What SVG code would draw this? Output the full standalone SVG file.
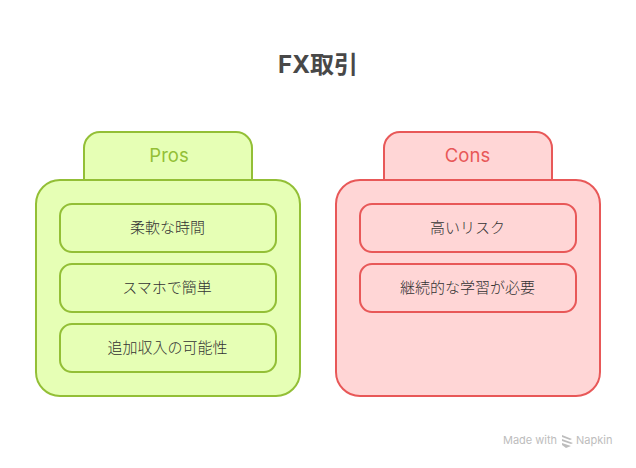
<svg xmlns="http://www.w3.org/2000/svg" width="636" height="468" viewBox="0 0 636 468">
<style>
text{text-anchor:middle;font-family:"Inter","Noto Sans CJK JP",sans-serif}
.g rect,.g path{fill:#e6ffb5;stroke:#93bf36;stroke-width:2}
.r rect,.r path{fill:#ffd6d6;stroke:#e85858;stroke-width:2}
.h{font-size:18.5px;font-weight:400}
.g .h{fill:#93bf36}.r .h{fill:#e85858}
.t{font-size:15px;fill:#333;font-weight:300}
.c{font-size:11px;text-anchor:start;font-weight:400;fill:#bdbdbd}
</style>
<rect width="636" height="468" fill="#fff"/>
<text id="title" x="318" y="73" font-size="24" font-weight="700" fill="#484848">FX取引</text>
<g id="connectors"/>
<g id="pros" class="g">
<path d="M84 180V148a16 16 0 0 1 16-16H236a16 16 0 0 1 16 16V180"/>
<rect x="36" y="180" width="264" height="216" rx="24"/>
<text class="h" x="169" y="162">Pros</text>
</g>
<g id="pros1" class="g"><rect x="60" y="204" width="216" height="48" rx="12"/><text class="t" x="167.500" y="233">柔軟な時間</text></g>
<g id="pros2" class="g"><rect x="60" y="264" width="216" height="48" rx="12"/><text class="t" x="167" y="293">スマホで簡単</text></g>
<g id="pros3" class="g"><rect x="60" y="324" width="216" height="48" rx="12"/><text class="t" x="167.500" y="353">追加収入の可能性</text></g>
<g id="cons" class="r">
<path d="M384 180V148a16 16 0 0 1 16-16H536a16 16 0 0 1 16 16V180"/>
<rect x="336" y="180" width="264" height="216" rx="24"/>
<text class="h" x="467.500" y="162">Cons</text>
</g>
<g id="cons1" class="r"><rect x="360" y="204" width="216" height="48" rx="12"/><text class="t" x="467.500" y="233">高いリスク</text></g>
<g id="cons2" class="r"><rect x="360" y="264" width="216" height="48" rx="12"/><text class="t" x="467.500" y="293">継続的な学習が必要</text></g>
<g id="credit" fill="#bdbdbd">
<text class="c" x="503" y="444">Made with</text>
<path d="M562 435l10 4-2 1-8-3zM562 439l11 4-2 1-9-3zM562 443l9 3-5 2-4-3z"/>
<text class="c" x="576" y="444">Napkin</text>
</g>
</svg>
